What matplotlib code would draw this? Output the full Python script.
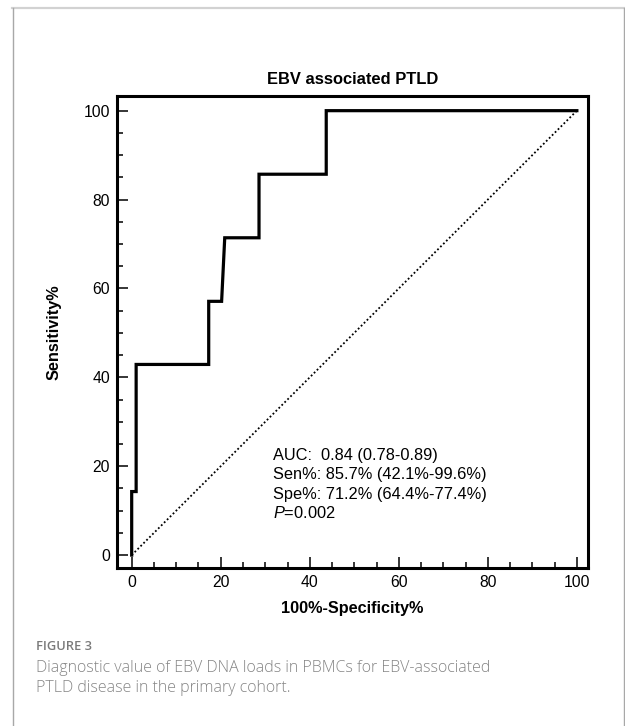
import matplotlib
matplotlib.use("Agg")
import matplotlib.pyplot as plt
from matplotlib.lines import Line2D

plt.rcParams['font.family'] = ['Liberation Sans', 'DejaVu Sans']
plt.rcParams['mathtext.fontset'] = 'custom'
plt.rcParams['mathtext.rm'] = 'Liberation Sans'
plt.rcParams['mathtext.it'] = 'Liberation Sans:italic'

# ROC curve points (100%-Specificity%, Sensitivity%)
fpr = [0, 0, 1.0, 1.0, 17.3, 17.3, 20.2, 20.9, 28.6, 28.6, 43.7, 43.7, 100]
tpr = [0, 14.3, 14.3, 42.9, 42.9, 57.1, 57.1, 71.4, 71.4, 85.7, 85.7, 100, 100]

# reference line
ref_x = [0, 100]
ref_y = [0, 100]

stats_lines = [
    "AUC:  0.84 (0.78-0.89)",
    "Sen%: 85.7% (42.1%-99.6%)",
    "Spe%: 71.2% (64.4%-77.4%)",
    "$P$=0.002",
]
stats_x = 31.8
stats_y = [22.5, 18.2, 13.7, 9.4]

ticks = [0, 20, 40, 60, 80, 100]
minor_ticks = [5, 10, 15, 25, 30, 35, 45, 50, 55, 65, 70, 75, 85, 90, 95]

fig = plt.figure(figsize=(6.25, 7.26), dpi=100)

# рамка вокруг рисунка
fig.add_artist(Line2D([12 / 625, 624 / 625], [1 - 7.5 / 726, 1 - 7.5 / 726],
                      transform=fig.transFigure, color='#d2d2d2', lw=1.6))
fig.add_artist(Line2D([12.5 / 625, 12.5 / 625], [0, 1 - 7.5 / 726],
                      transform=fig.transFigure, color='#a8a8a8', lw=1.0))
fig.add_artist(Line2D([623.5 / 625, 623.5 / 625], [0, 1 - 7.5 / 726],
                      transform=fig.transFigure, color='#a8a8a8', lw=1.0))

ax = fig.add_axes([117 / 625, 1 - 568 / 726, 471 / 625, 472 / 726])

ax.plot(ref_x, ref_y, color='black', lw=1.3, linestyle=(0, (1, 1.3)))
ax.plot(fpr, tpr, color='black', lw=2.3, solid_joinstyle='miter')

for txt, yy in zip(stats_lines, stats_y):
    ax.text(stats_x, yy, txt, fontsize=11.8, va='center', ha='left')

ax.set_xlim(-3.3, 102.5)
ax.set_ylim(-2.9, 103.3)
ax.set_xticks(ticks)
ax.set_yticks(ticks)
ax.set_xticks(minor_ticks, minor=True)
ax.set_yticks(minor_ticks, minor=True)
ax.tick_params(which='major', direction='in', length=8, width=1.1, labelsize=11.3, pad=5)
ax.tick_params(which='minor', direction='in', length=4, width=1.1)

for sp in ax.spines.values():
    sp.set_linewidth(2.2)

ax.set_title('EBV associated PTLD', fontsize=11.9, fontweight='bold', pad=9)
ax.set_xlabel('100%-Specificity%', fontsize=11.7, fontweight='bold', labelpad=8)
ax.set_ylabel('Sensitivity%', fontsize=11.7, fontweight='bold', labelpad=16)

# подпись к рисунку
fig.text(36 / 625, 1 - 647 / 726, 'FIGURE 3', fontsize=9.3, color='#7a7a7a',
         family=['Open Sans', 'DejaVu Sans'], fontweight='semibold', va='center')
fig.text(36 / 625, 1 - 668 / 726, 'Diagnostic value of EBV DNA loads in PBMCs for EBV-associated',
         fontsize=11.5, color='#858585', family=['Open Sans', 'DejaVu Sans'],
         fontweight='light', va='center')
fig.text(36 / 625, 1 - 688 / 726, 'PTLD disease in the primary cohort.',
         fontsize=11.5, color='#858585', family=['Open Sans', 'DejaVu Sans'],
         fontweight='light', va='center')

fig.savefig('out.png', dpi=100)
